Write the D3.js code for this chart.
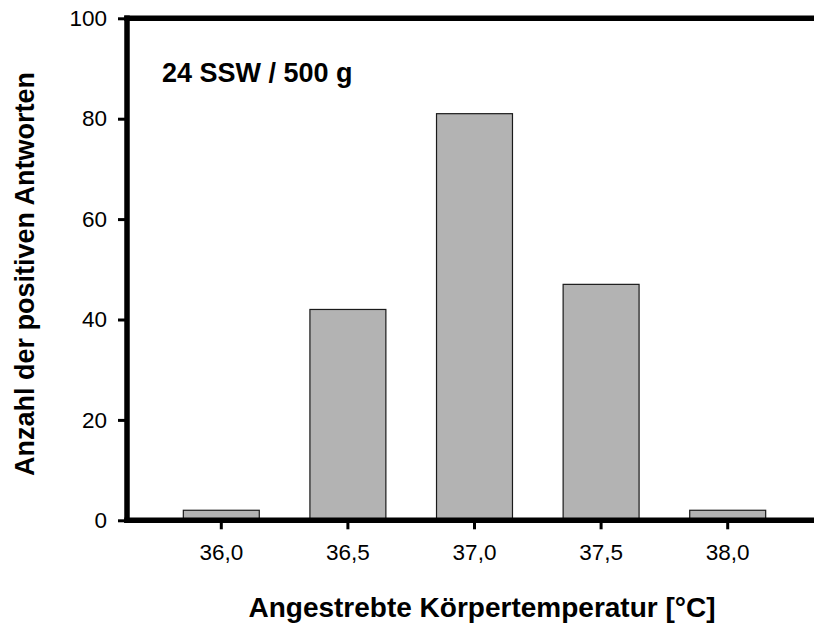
<!DOCTYPE html>
<html>
<head>
<meta charset="utf-8">
<script src="https://cdn.jsdelivr.net/npm/d3@7"></script>
<style>
  html, body { margin: 0; padding: 0; background: #fff; }
  svg { display: block; font-family: "Liberation Sans", Arial, sans-serif; }
</style>
</head>
<body>
<svg id="chart" width="814" height="625"></svg>
<script>
// ---- data ----
const categories = ["36,0", "36,5", "37,0", "37,5", "38,0"];
const counts = [2, 42, 81, 47, 2];
const yTicks = [0, 20, 40, 60, 80, 100];
const annotation = "24 SSW / 500 g";
const xTitle = "Angestrebte Körpertemperatur [°C]";
const yTitle = "Anzahl der positiven Antworten";

const W = 814, H = 625;
const axisX = 127;      // left axis position
const plotRight = W;    // plot continues to the right edge
const svg = d3.select("#chart");

const x = d3.scaleBand()
  .domain(categories)
  .range([158, 791])
  .paddingInner(0.4)
  .paddingOuter(0.2);

const y = d3.scaleLinear()
  .domain([0, 100])
  .range([520.3, 18.3]);

// bars
svg.append("g")
  .selectAll("rect")
  .data(counts)
  .join("rect")
  .attr("x", (d, i) => x(categories[i]))
  .attr("y", d => y(d))
  .attr("width", x.bandwidth())
  .attr("height", d => y(0) - y(d))
  .attr("fill", "#b3b3b3")
  .attr("stroke", "#1a1a1a")
  .attr("stroke-width", 1.2);

// y axis
const yAxis = svg.append("g")
  .attr("transform", `translate(${axisX},0)`)
  .call(d3.axisLeft(y).tickValues(yTicks).tickSize(9).tickPadding(11).tickFormat(d3.format("d")));
yAxis.select(".domain").remove();
yAxis.selectAll(".tick line").attr("stroke", "#000").attr("stroke-width", 3);
yAxis.selectAll(".tick text")
  .attr("font-size", 22.5)
  .attr("font-family", "Liberation Sans, Arial, sans-serif")
  .attr("fill", "#000");

// x axis
const xAxis = svg.append("g")
  .attr("transform", `translate(0,${y(0)})`)
  .call(d3.axisBottom(x).tickSize(9).tickPadding(0));
xAxis.select(".domain").remove();
xAxis.selectAll(".tick line").attr("stroke", "#000").attr("stroke-width", 3);
xAxis.selectAll(".tick text")
  .attr("y", 40)
  .attr("dy", 0)
  .attr("font-size", 22.5)
  .attr("font-family", "Liberation Sans, Arial, sans-serif")
  .attr("fill", "#000");

// frame lines (left, top, bottom)
const frame = svg.append("g").attr("stroke", "#000").attr("stroke-width", 5.5).attr("fill", "none");
frame.append("line").attr("x1", axisX).attr("x2", axisX).attr("y1", y(100) - 2.75).attr("y2", y(0) + 2.75);
frame.append("line").attr("x1", axisX - 2.75).attr("x2", plotRight).attr("y1", y(100)).attr("y2", y(100));
frame.append("line").attr("x1", axisX - 2.75).attr("x2", plotRight).attr("y1", y(0)).attr("y2", y(0));

// annotation
svg.append("text")
  .attr("x", 162)
  .attr("y", 82)
  .attr("font-size", 27)
  .attr("font-weight", "bold")
  .text(annotation);

// axis titles
svg.append("text")
  .attr("x", 482)
  .attr("y", 617)
  .attr("text-anchor", "middle")
  .attr("font-size", 28)
  .attr("font-weight", "bold")
  .text(xTitle);

svg.append("text")
  .attr("transform", `translate(34,274) rotate(-90)`)
  .attr("text-anchor", "middle")
  .attr("font-size", 27)
  .attr("font-weight", "bold")
  .text(yTitle);
</script>
</body>
</html>
